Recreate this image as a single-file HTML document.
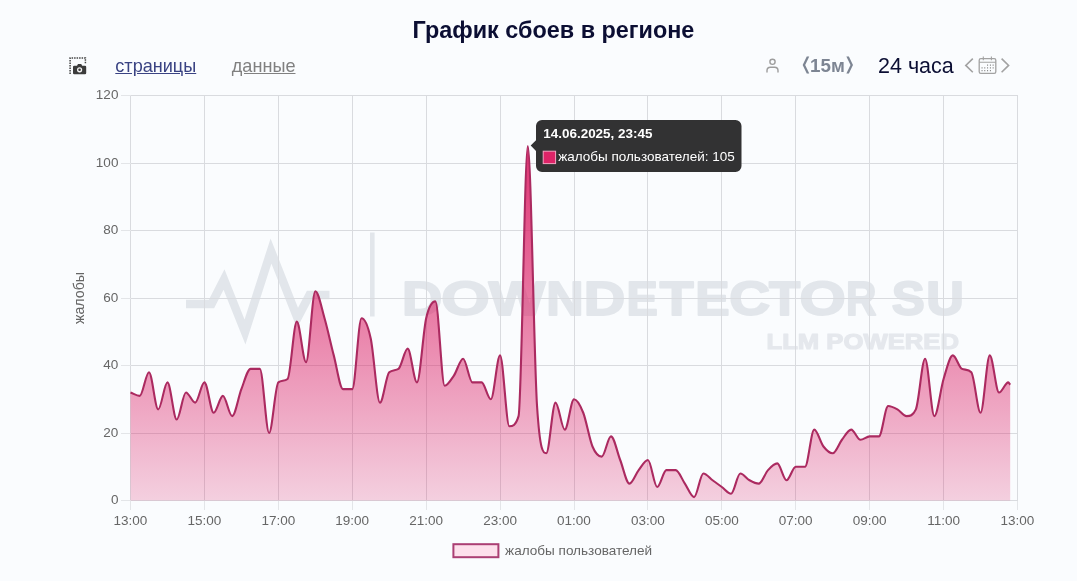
<!DOCTYPE html>
<html lang="ru">
<head>
<meta charset="utf-8">
<title>График сбоев в регионе</title>
<style>
html,body{margin:0;padding:0;}
body{width:1077px;height:581px;overflow:hidden;background:#fafcfe;font-family:"Liberation Sans",sans-serif;position:relative;}
.title{position:absolute;left:0;top:17.3px;width:1107px;text-align:center;font-weight:bold;font-size:23.4px;line-height:26px;color:#0b0e33;margin:0;white-space:nowrap;}
.toolbar a{position:absolute;text-decoration:underline;font-size:18.1px;line-height:20px;white-space:nowrap;}
.lnk1{left:115.3px;top:56px;color:#3a4383;}
.lnk2{left:231.8px;top:56px;color:#808080;}
.int{position:absolute;left:800px;top:56px;font-size:18.8px;line-height:20px;font-weight:bold;color:#7d8593;white-space:nowrap;}
.per{position:absolute;left:878px;top:54px;font-size:21.5px;line-height:24px;color:#0b0e33;white-space:nowrap;}
.br{display:inline-block;font-weight:normal;transform:scale(1.6,1.02);margin:0 1.5px;position:relative;top:-1px;}
svg{position:absolute;left:0;top:0;}
svg text{font-family:"Liberation Sans",sans-serif;}
</style>
</head>
<body>
<h1 class="title">График сбоев в регионе</h1>
<div class="toolbar">
  <a class="lnk1">страницы</a>
  <a class="lnk2">данные</a>
  <span class="int"><span class="br">⟨</span>15м<span class="br">⟩</span></span>
  <span class="per">24 часа</span>
</div>
<svg width="1077" height="581" viewBox="0 0 1077 581">
  <defs>
    <linearGradient id="g" gradientUnits="userSpaceOnUse" x1="0" y1="95" x2="0" y2="500">
      <stop offset="0" stop-color="#dc1c63" stop-opacity="1"/>
      <stop offset="1" stop-color="#dc1c63" stop-opacity="0.2"/>
    </linearGradient>
  </defs>
  <!-- toolbar icons -->
  <g id="cam">
    <path d="M70.1 74 V58 H85.4 V64" fill="none" stroke="#444" stroke-width="1.5" stroke-dasharray="1.5 1"/>
    <path d="M74.2 65.7 h2.8 l1 -1.7 h3.2 l1 1.7 h2.8 a1.2 1.2 0 0 1 1.2 1.2 v6.1 a1.2 1.2 0 0 1 -1.2 1.2 h-10.8 a1.2 1.2 0 0 1 -1.2 -1.2 v-6.1 a1.2 1.2 0 0 1 1.2 -1.2 z" fill="#3c3c3c"/>
    <circle cx="79.6" cy="69.8" r="2.6" fill="#f4f4f4"/>
    <circle cx="79.6" cy="69.8" r="1.3" fill="#3c3c3c"/>
  </g>
  <g id="user" fill="none" stroke="#9d9d9d" stroke-width="1.4" stroke-linecap="round">
    <circle cx="772.5" cy="61.8" r="2.6"/>
    <path d="M767 72 v-1.4 a3.4 3.4 0 0 1 3.4 -3.4 h4.2 a3.4 3.4 0 0 1 3.4 3.4 v1.4"/>
  </g>
  <g id="cal" fill="none" stroke="#a2a2a2" stroke-width="1.6">
    <path d="M972.8 58.6 l-7 6.8 l7 6.8"/>
    <path d="M1001.6 58.6 l7 6.8 l-7 6.8"/>
    <rect x="979.2" y="58.7" width="16.6" height="14.6" rx="1.6" stroke-width="1.3"/>
    <path d="M979.2 62.2 h16.6 M983.3 56.6 v3.6 M991.4 56.6 v3.6" stroke-width="1.1"/>
    <path d="M987.0 65.2h1.1M989.9 65.2h1.1M992.6 65.2h1.1M981.5 67.9h1.1M984.2 67.9h1.1M987.0 67.9h1.1M989.9 67.9h1.1M992.6 67.9h1.1M981.5 70.6h1.1M984.2 70.6h1.1M987.0 70.6h1.1M989.9 70.6h1.1" stroke-width="1.2" stroke="#8c8c8c"/>
  </g>
  <!-- watermark -->
  <g id="wm" fill="#e2e6eb" stroke="#e2e6eb">
    <path d="M186 304 H211.500 L224 279.500 L245 332 L271 251 L297.500 318 L309.500 295 H329.500" fill="none" stroke-width="8.500" stroke-linejoin="miter" stroke-miterlimit="10"/>
    <rect x="370" y="232.500" width="4.600" height="84" stroke="none"/>
    <text y="314.6" font-size="49" font-weight="bold" stroke-width="2.0" stroke-linejoin="round"><tspan x="401.9" textLength="40.3" lengthAdjust="spacingAndGlyphs">D</tspan><tspan x="441.3" textLength="48.5" lengthAdjust="spacingAndGlyphs">O</tspan><tspan x="488.8" textLength="56.5" lengthAdjust="spacingAndGlyphs">W</tspan><tspan x="546.2" textLength="37.4" lengthAdjust="spacingAndGlyphs">N</tspan><tspan x="583.8" textLength="41.5" lengthAdjust="spacingAndGlyphs">D</tspan><tspan x="626.6" textLength="31.3" lengthAdjust="spacingAndGlyphs">E</tspan><tspan x="659.8" textLength="33.8" lengthAdjust="spacingAndGlyphs">T</tspan><tspan x="695.2" textLength="34.3" lengthAdjust="spacingAndGlyphs">E</tspan><tspan x="729.3" textLength="40.9" lengthAdjust="spacingAndGlyphs">C</tspan><tspan x="768.9" textLength="31.1" lengthAdjust="spacingAndGlyphs">T</tspan><tspan x="799.4" textLength="46.2" lengthAdjust="spacingAndGlyphs">O</tspan><tspan x="845.9" textLength="30.4" lengthAdjust="spacingAndGlyphs">R</tspan><tspan> </tspan><tspan x="891.7" textLength="33.0" lengthAdjust="spacingAndGlyphs">S</tspan><tspan x="926.3" textLength="37.7" lengthAdjust="spacingAndGlyphs">U</tspan></text>
    <text x="766.500" y="349.400" font-size="22.500" font-weight="bold" textLength="192.500" lengthAdjust="spacingAndGlyphs" stroke-width="1.200" stroke-linejoin="round" fill="#e5e8ed" stroke="#e5e8ed">LLM POWERED</text>
  </g>
  <!-- grid -->
  <g stroke="#d9dbdf" stroke-width="1" shape-rendering="crispEdges"><line x1="130.5" y1="95.5" x2="130.5" y2="500.5"/><line x1="204.42" y1="95.5" x2="204.42" y2="500.5"/><line x1="278.33" y1="95.5" x2="278.33" y2="500.5"/><line x1="352.25" y1="95.5" x2="352.25" y2="500.5"/><line x1="426.17" y1="95.5" x2="426.17" y2="500.5"/><line x1="500.08" y1="95.5" x2="500.08" y2="500.5"/><line x1="574" y1="95.5" x2="574" y2="500.5"/><line x1="647.92" y1="95.5" x2="647.92" y2="500.5"/><line x1="721.83" y1="95.5" x2="721.83" y2="500.5"/><line x1="795.75" y1="95.5" x2="795.75" y2="500.5"/><line x1="869.67" y1="95.5" x2="869.67" y2="500.5"/><line x1="943.58" y1="95.5" x2="943.58" y2="500.5"/><line x1="1017.5" y1="95.5" x2="1017.5" y2="500.5"/><line x1="130.5" y1="500.5" x2="1017.5" y2="500.5"/><line x1="130.5" y1="433" x2="1017.5" y2="433"/><line x1="130.5" y1="365.5" x2="1017.5" y2="365.5"/><line x1="130.5" y1="298" x2="1017.5" y2="298"/><line x1="130.5" y1="230.5" x2="1017.5" y2="230.5"/><line x1="130.5" y1="163" x2="1017.5" y2="163"/><line x1="130.5" y1="95.5" x2="1017.5" y2="95.5"/></g>
  <g stroke="#e3e5e8" stroke-width="1" shape-rendering="crispEdges"><line x1="130.5" y1="500.5" x2="130.5" y2="510"/><line x1="204.42" y1="500.5" x2="204.42" y2="510"/><line x1="278.33" y1="500.5" x2="278.33" y2="510"/><line x1="352.25" y1="500.5" x2="352.25" y2="510"/><line x1="426.17" y1="500.5" x2="426.17" y2="510"/><line x1="500.08" y1="500.5" x2="500.08" y2="510"/><line x1="574" y1="500.5" x2="574" y2="510"/><line x1="647.92" y1="500.5" x2="647.92" y2="510"/><line x1="721.83" y1="500.5" x2="721.83" y2="510"/><line x1="795.75" y1="500.5" x2="795.75" y2="510"/><line x1="869.67" y1="500.5" x2="869.67" y2="510"/><line x1="943.58" y1="500.5" x2="943.58" y2="510"/><line x1="1017.5" y1="500.5" x2="1017.5" y2="510"/><line x1="121" y1="500.5" x2="130.5" y2="500.5"/><line x1="121" y1="433" x2="130.5" y2="433"/><line x1="121" y1="365.5" x2="130.5" y2="365.5"/><line x1="121" y1="298" x2="130.5" y2="298"/><line x1="121" y1="230.5" x2="130.5" y2="230.5"/><line x1="121" y1="163" x2="130.5" y2="163"/><line x1="121" y1="95.5" x2="130.5" y2="95.5"/></g>
  <!-- data -->
  <path d="M130.5,392.5C133.58,393.62 136.66,395.88 139.74,395.88C142.82,395.88 145.9,372.25 148.98,372.25C152.06,372.25 155.14,409.38 158.22,409.38C161.3,409.38 164.38,382.38 167.46,382.38C170.54,382.38 173.62,419.5 176.7,419.5C179.78,419.5 182.86,392.5 185.94,392.5C189.02,392.5 192.1,402.62 195.18,402.62C198.26,402.62 201.34,382.38 204.42,382.38C207.5,382.38 210.58,412.75 213.66,412.75C216.74,412.75 219.82,395.88 222.9,395.88C225.98,395.88 229.06,416.12 232.14,416.12C235.22,416.12 238.3,397 241.38,389.12C244.45,381.25 247.53,368.88 250.61,368.88C253.69,368.88 256.77,368.88 259.85,368.88C262.93,368.88 266.01,433 269.09,433C272.17,433 275.25,384.62 278.33,382.38C281.41,380.13 284.49,381.52 287.57,379C290.65,376.48 293.73,321.62 296.81,321.62C299.89,321.62 302.97,362.12 306.05,362.12C309.13,362.12 312.21,291.25 315.29,291.25C318.37,291.25 321.45,307.56 324.53,318.25C327.61,328.94 330.69,343.56 333.77,355.38C336.85,367.19 339.93,389.12 343.01,389.12C346.09,389.12 349.17,389.12 352.25,389.12C355.33,389.12 358.41,318.25 361.49,318.25C364.57,318.25 367.65,324.44 370.73,338.5C373.81,352.56 376.89,402.62 379.97,402.62C383.05,402.62 386.13,375.01 389.21,372.25C392.29,369.49 395.37,370.81 398.45,368.88C401.53,366.94 404.61,348.62 407.69,348.62C410.77,348.62 413.85,382.38 416.93,382.38C420.01,382.38 423.09,331.75 426.17,318.25C429.25,304.75 432.33,301.38 435.41,301.38C438.49,301.38 441.57,385.75 444.65,385.75C447.73,385.75 450.81,380.12 453.89,375.62C456.97,371.12 460.05,358.75 463.12,358.75C466.2,358.75 469.28,382.38 472.36,382.38C475.44,382.38 478.52,382.38 481.6,382.38C484.68,382.38 487.76,399.25 490.84,399.25C493.92,399.25 497,355.38 500.08,355.38C503.16,355.38 506.24,426.25 509.32,426.25C512.4,426.25 515.48,426.25 518.56,416.12C521.64,406 524.72,146.12 527.8,146.12C530.88,146.12 533.96,358.75 537.04,406C540.12,453.25 543.2,453.25 546.28,453.25C549.36,453.25 552.44,402.62 555.52,402.62C558.6,402.62 561.68,429.62 564.76,429.62C567.84,429.62 570.92,399.25 574,399.25C577.08,399.25 580.16,404.88 583.24,412.75C586.32,420.62 589.4,439.19 592.48,446.5C595.56,453.81 598.64,456.62 601.72,456.62C604.8,456.62 607.88,436.38 610.96,436.38C614.04,436.38 617.12,452.12 620.2,460C623.28,467.87 626.36,483.62 629.44,483.62C632.52,483.62 635.6,474.06 638.68,470.12C641.76,466.19 644.84,460 647.92,460C651,460 654.08,487 657.16,487C660.24,487 663.32,470.12 666.4,470.12C669.48,470.12 672.56,470.12 675.64,470.12C678.72,470.12 681.8,479.12 684.88,483.62C687.95,488.12 691.03,497.12 694.11,497.12C697.19,497.12 700.27,473.5 703.35,473.5C706.43,473.5 709.51,478 712.59,480.25C715.67,482.5 718.75,484.75 721.83,487C724.91,489.25 727.99,493.75 731.07,493.75C734.15,493.75 737.23,473.5 740.31,473.5C743.39,473.5 746.47,478.56 749.55,480.25C752.63,481.94 755.71,483.62 758.79,483.62C761.87,483.62 764.95,473.5 768.03,470.12C771.11,466.75 774.19,463.38 777.27,463.38C780.35,463.38 783.43,480.25 786.51,480.25C789.59,480.25 792.67,466.75 795.75,466.75C798.83,466.75 801.91,466.75 804.99,466.75C808.07,466.75 811.15,429.62 814.23,429.62C817.31,429.62 820.39,442.56 823.47,446.5C826.55,450.44 829.63,453.25 832.71,453.25C835.79,453.25 838.87,443.69 841.95,439.75C845.03,435.81 848.11,429.62 851.19,429.62C854.27,429.62 857.35,439.75 860.43,439.75C863.51,439.75 866.59,436.38 869.67,436.38C872.75,436.38 875.83,436.38 878.91,436.38C881.99,436.38 885.07,406 888.15,406C891.23,406 894.31,407.69 897.39,409.38C900.47,411.06 903.55,416.12 906.62,416.12C909.7,416.12 912.78,416.12 915.86,409.38C918.94,402.62 922.02,358.75 925.1,358.75C928.18,358.75 931.26,416.12 934.34,416.12C937.42,416.12 940.5,389.12 943.58,379C946.66,368.88 949.74,355.38 952.82,355.38C955.9,355.38 958.98,367.66 962.06,368.88C965.14,370.09 968.22,369.1 971.3,372.25C974.38,375.4 977.46,412.75 980.54,412.75C983.62,412.75 986.7,355.38 989.78,355.38C992.86,355.38 995.94,392.5 999.02,392.5C1002.1,392.5 1005.18,382.38 1008.26,382.38C1008.91,382.38 1009.55,383.95 1010.2,384.74L1010.2,500.5 L130.5,500.5 Z" fill="url(#g)"/>
  <path d="M130.5,392.5C133.58,393.62 136.66,395.88 139.74,395.88C142.82,395.88 145.9,372.25 148.98,372.25C152.06,372.25 155.14,409.38 158.22,409.38C161.3,409.38 164.38,382.38 167.46,382.38C170.54,382.38 173.62,419.5 176.7,419.5C179.78,419.5 182.86,392.5 185.94,392.5C189.02,392.5 192.1,402.62 195.18,402.62C198.26,402.62 201.34,382.38 204.42,382.38C207.5,382.38 210.58,412.75 213.66,412.75C216.74,412.75 219.82,395.88 222.9,395.88C225.98,395.88 229.06,416.12 232.14,416.12C235.22,416.12 238.3,397 241.38,389.12C244.45,381.25 247.53,368.88 250.61,368.88C253.69,368.88 256.77,368.88 259.85,368.88C262.93,368.88 266.01,433 269.09,433C272.17,433 275.25,384.62 278.33,382.38C281.41,380.13 284.49,381.52 287.57,379C290.65,376.48 293.73,321.62 296.81,321.62C299.89,321.62 302.97,362.12 306.05,362.12C309.13,362.12 312.21,291.25 315.29,291.25C318.37,291.25 321.45,307.56 324.53,318.25C327.61,328.94 330.69,343.56 333.77,355.38C336.85,367.19 339.93,389.12 343.01,389.12C346.09,389.12 349.17,389.12 352.25,389.12C355.33,389.12 358.41,318.25 361.49,318.25C364.57,318.25 367.65,324.44 370.73,338.5C373.81,352.56 376.89,402.62 379.97,402.62C383.05,402.62 386.13,375.01 389.21,372.25C392.29,369.49 395.37,370.81 398.45,368.88C401.53,366.94 404.61,348.62 407.69,348.62C410.77,348.62 413.85,382.38 416.93,382.38C420.01,382.38 423.09,331.75 426.17,318.25C429.25,304.75 432.33,301.38 435.41,301.38C438.49,301.38 441.57,385.75 444.65,385.75C447.73,385.75 450.81,380.12 453.89,375.62C456.97,371.12 460.05,358.75 463.12,358.75C466.2,358.75 469.28,382.38 472.36,382.38C475.44,382.38 478.52,382.38 481.6,382.38C484.68,382.38 487.76,399.25 490.84,399.25C493.92,399.25 497,355.38 500.08,355.38C503.16,355.38 506.24,426.25 509.32,426.25C512.4,426.25 515.48,426.25 518.56,416.12C521.64,406 524.72,146.12 527.8,146.12C530.88,146.12 533.96,358.75 537.04,406C540.12,453.25 543.2,453.25 546.28,453.25C549.36,453.25 552.44,402.62 555.52,402.62C558.6,402.62 561.68,429.62 564.76,429.62C567.84,429.62 570.92,399.25 574,399.25C577.08,399.25 580.16,404.88 583.24,412.75C586.32,420.62 589.4,439.19 592.48,446.5C595.56,453.81 598.64,456.62 601.72,456.62C604.8,456.62 607.88,436.38 610.96,436.38C614.04,436.38 617.12,452.12 620.2,460C623.28,467.87 626.36,483.62 629.44,483.62C632.52,483.62 635.6,474.06 638.68,470.12C641.76,466.19 644.84,460 647.92,460C651,460 654.08,487 657.16,487C660.24,487 663.32,470.12 666.4,470.12C669.48,470.12 672.56,470.12 675.64,470.12C678.72,470.12 681.8,479.12 684.88,483.62C687.95,488.12 691.03,497.12 694.11,497.12C697.19,497.12 700.27,473.5 703.35,473.5C706.43,473.5 709.51,478 712.59,480.25C715.67,482.5 718.75,484.75 721.83,487C724.91,489.25 727.99,493.75 731.07,493.75C734.15,493.75 737.23,473.5 740.31,473.5C743.39,473.5 746.47,478.56 749.55,480.25C752.63,481.94 755.71,483.62 758.79,483.62C761.87,483.62 764.95,473.5 768.03,470.12C771.11,466.75 774.19,463.38 777.27,463.38C780.35,463.38 783.43,480.25 786.51,480.25C789.59,480.25 792.67,466.75 795.75,466.75C798.83,466.75 801.91,466.75 804.99,466.75C808.07,466.75 811.15,429.62 814.23,429.62C817.31,429.62 820.39,442.56 823.47,446.5C826.55,450.44 829.63,453.25 832.71,453.25C835.79,453.25 838.87,443.69 841.95,439.75C845.03,435.81 848.11,429.62 851.19,429.62C854.27,429.62 857.35,439.75 860.43,439.75C863.51,439.75 866.59,436.38 869.67,436.38C872.75,436.38 875.83,436.38 878.91,436.38C881.99,436.38 885.07,406 888.15,406C891.23,406 894.31,407.69 897.39,409.38C900.47,411.06 903.55,416.12 906.62,416.12C909.7,416.12 912.78,416.12 915.86,409.38C918.94,402.62 922.02,358.75 925.1,358.75C928.18,358.75 931.26,416.12 934.34,416.12C937.42,416.12 940.5,389.12 943.58,379C946.66,368.88 949.74,355.38 952.82,355.38C955.9,355.38 958.98,367.66 962.06,368.88C965.14,370.09 968.22,369.1 971.3,372.25C974.38,375.4 977.46,412.75 980.54,412.75C983.62,412.75 986.7,355.38 989.78,355.38C992.86,355.38 995.94,392.5 999.02,392.5C1002.1,392.5 1005.18,382.38 1008.26,382.38C1008.91,382.38 1009.55,383.95 1010.2,384.74" fill="none" stroke="#ab2a60" stroke-width="2.1" stroke-linejoin="round"/>
  <!-- axis labels -->
  <g font-size="13.5" fill="#666"><text x="118.400" y="504.4" text-anchor="end">0</text><text x="118.400" y="436.9" text-anchor="end">20</text><text x="118.400" y="369.4" text-anchor="end">40</text><text x="118.400" y="301.9" text-anchor="end">60</text><text x="118.400" y="234.4" text-anchor="end">80</text><text x="118.400" y="166.9" text-anchor="end">100</text><text x="118.400" y="99.4" text-anchor="end">120</text></g>
  <g font-size="13.5" fill="#666"><text x="130.5" y="524.8" text-anchor="middle">13:00</text><text x="204.42" y="524.8" text-anchor="middle">15:00</text><text x="278.33" y="524.8" text-anchor="middle">17:00</text><text x="352.25" y="524.8" text-anchor="middle">19:00</text><text x="426.17" y="524.8" text-anchor="middle">21:00</text><text x="500.08" y="524.8" text-anchor="middle">23:00</text><text x="574" y="524.8" text-anchor="middle">01:00</text><text x="647.92" y="524.8" text-anchor="middle">03:00</text><text x="721.83" y="524.8" text-anchor="middle">05:00</text><text x="795.75" y="524.8" text-anchor="middle">07:00</text><text x="869.67" y="524.8" text-anchor="middle">09:00</text><text x="943.58" y="524.8" text-anchor="middle">11:00</text><text x="1017.5" y="524.8" text-anchor="middle">13:00</text></g>
  <text transform="translate(83.5 298) rotate(-90)" text-anchor="middle" font-size="14.2" fill="#666">жалобы</text>
  <!-- legend -->
  <rect x="453.400" y="544.200" width="45" height="13" fill="#fde0ec" stroke="#ab3f74" stroke-width="2"/>
  <text x="505.100" y="554.800" font-size="13.550" fill="#666">жалобы пользователей</text>
  <!-- tooltip -->
  <g id="tip">
    <path d="M542 120 h193.500 a6 6 0 0 1 6 6 v40 a6 6 0 0 1 -6 6 h-193.500 a6 6 0 0 1 -6 -6 v-15 l-5.3 -5.400 l5.300 -5.400 v-14.200 a6 6 0 0 1 6 -6 z" fill="#323233"/>
    <text x="543.3" y="137.6" font-size="13.45" font-weight="bold" fill="#fff">14.06.2025, 23:45</text>
    <rect x="543.2" y="151.200" width="12.4" height="12.4" fill="#de2468" stroke="#f5a3c3" stroke-width="1"/>
    <text x="558.2" y="161.2" font-size="13.5" fill="#fff">жалобы пользователей: 105</text>
  </g>
</svg>
</body>
</html>
